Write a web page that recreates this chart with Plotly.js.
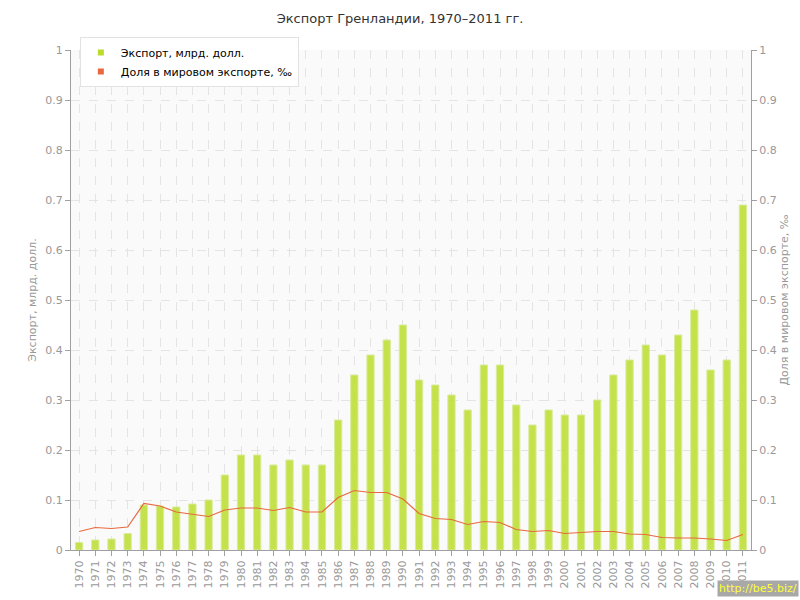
<!DOCTYPE html>
<html>
<head>
<meta charset="utf-8">
<script src="https://cdn.plot.ly/plotly-3.0.1.min.js"></script>
<style>html,body{margin:0;padding:0;background:#fff;}#chart{width:800px;height:600px;}</style>
</head>
<body>
<div id="chart"></div>
<script>
var years = ["1970","1971","1972","1973","1974","1975","1976","1977","1978","1979",
  "1980","1981","1982","1983","1984","1985","1986","1987","1988","1989",
  "1990","1991","1992","1993","1994","1995","1996","1997","1998","1999",
  "2000","2001","2002","2003","2004","2005","2006","2007","2008","2009","2010","2011"];
var exportBn = [0.015,0.02,0.022,0.033,0.09,0.088,0.086,0.092,0.1,0.15,
  0.19,0.19,0.17,0.18,0.17,0.17,0.26,0.35,0.39,0.42,
  0.45,0.34,0.33,0.31,0.28,0.37,0.37,0.29,0.25,0.28,
  0.27,0.27,0.30,0.35,0.38,0.41,0.39,0.43,0.48,0.36,0.38,0.69];
var worldShare = [0.037,0.045,0.043,0.046,0.093,0.088,0.076,0.071,0.067,0.080,
  0.084,0.084,0.079,0.085,0.076,0.076,0.105,0.119,0.115,0.115,
  0.102,0.073,0.063,0.061,0.051,0.057,0.055,0.041,0.037,0.039,
  0.033,0.035,0.037,0.037,0.032,0.031,0.025,0.024,0.024,0.022,0.019,0.031];
var tickVals = [0,0.1,0.2,0.3,0.4,0.5,0.6,0.7,0.8,0.9,1];
var tickText = ["0","0.1","0.2","0.3","0.4","0.5","0.6","0.7","0.8","0.9","1"];
var seriesNames = ["Экспорт, млрд. долл.", "Доля в мировом экспорте, ‰"];
var seriesColors = ["#b9dc2c", "#e8693f"];

var FONT = "DejaVu Sans, Verdana, sans-serif";
var traces = [
  {type:"bar", x:years, y:exportBn, name:seriesNames[0], width:0.45, showlegend:false,
   marker:{color:"rgba(192,222,60,0.92)", line:{color:"#d9ec9a", width:1}}},
  {type:"scatter", mode:"lines", x:years, y:worldShare, yaxis:"y2", name:seriesNames[1],
   line:{color:seriesColors[1], width:1.2}, showlegend:false},
  {type:"scatter", mode:"markers", x:[null], y:[null], name:seriesNames[0],
   marker:{symbol:"square", size:6, color:seriesColors[0]}},
  {type:"scatter", mode:"markers", x:[null], y:[null], name:seriesNames[1],
   marker:{symbol:"square", size:6, color:seriesColors[1]}}
];
// white dashed centre lines showing through the bars (as in the reference)
var shapes = years.map(function (yr, i) {
  return {type:"line", xref:"x", yref:"y", x0:yr, x1:yr, y0:0, y1:exportBn[i], layer:"above",
          line:{color:"rgba(255,255,255,0.75)", width:1, dash:"dash"}};
});
var axisCommon = {
  range:[0,1], tickvals:tickVals, ticktext:tickText, showgrid:true, gridcolor:"#e4e4e4", griddash:"dash",
  zeroline:false, showline:true, linecolor:"#a0a0a0", ticks:"outside", ticklen:5, tickcolor:"#a0a0a0",
  tickfont:{family:FONT, size:11, color:"#999"}, fixedrange:true
};
var layout = {
  width:800, height:600,
  margin:{l:71, r:49, t:50, b:50},
  paper_bgcolor:"#fff", plot_bgcolor:"#fafafa",
  barmode:"overlay",
  title:{text:"Экспорт Гренландии, 1970–2011 гг.", x:0.5, xanchor:"center", y:0.97, yanchor:"middle",
         font:{family:FONT, size:13, color:"#333"}},
  xaxis:{type:"category", range:[-0.5,41.5], showgrid:true, gridcolor:"#e4e4e4", griddash:"dash",
         showline:true, linecolor:"#a0a0a0", ticks:"outside", ticklen:5, tickcolor:"#a0a0a0",
         tickangle:-90, tickfont:{family:FONT, size:11, color:"#999"}, zeroline:false},
  yaxis:Object.assign({}, axisCommon, {title:{text:"Экспорт, млрд. долл.", font:{family:FONT, size:11, color:"#999"}, standoff:6}}),
  yaxis2:Object.assign({}, axisCommon, {overlaying:"y", side:"right", showgrid:false,
         title:{text:"Доля в мировом экспорте, ‰", font:{family:FONT, size:11, color:"#999"}, standoff:4}}),
  legend:{x:0.013, y:1.026, xanchor:"left", yanchor:"top", bgcolor:"#fff", bordercolor:"#e2e2e2", borderwidth:1,
          font:{family:FONT, size:11, color:"#000"}, traceorder:"normal", itemwidth:30, tracegroupgap:0},
  showlegend:true,
  shapes:shapes,
  annotations:[{text:"http://be5.biz/", xref:"paper", yref:"paper", x:1.07, y:-0.094, xanchor:"right", yanchor:"bottom",
    showarrow:false, bgcolor:"#a8a8a8", font:{family:FONT, size:11, color:"#ffff33"}, borderpad:1}]
};
Plotly.newPlot("chart", traces, layout, {displayModeBar:false, staticPlot:true});
</script>
</body>
</html>
